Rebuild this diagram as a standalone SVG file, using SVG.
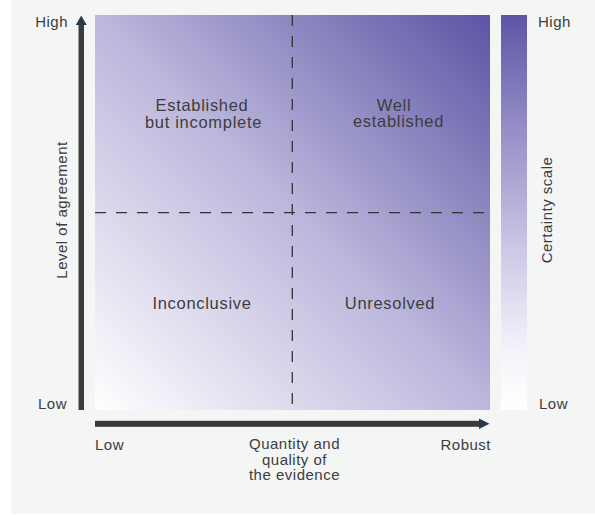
<svg xmlns="http://www.w3.org/2000/svg" width="595" height="515" viewBox="0 0 595 515">
<defs>
<linearGradient id="gSquare" x1="0" y1="1" x2="1" y2="0">
<stop offset="0" stop-color="#ffffff"/>
<stop offset="0.5" stop-color="#bcb7dc"/>
<stop offset="1" stop-color="#5b54a4"/>
</linearGradient>
<linearGradient id="gBar" x1="0" y1="0" x2="0" y2="1">
<stop offset="0" stop-color="#5c56a6"/>
<stop offset="0.3" stop-color="#9790c8"/>
<stop offset="0.6" stop-color="#cdc9e6"/>
<stop offset="0.85" stop-color="#f4f3fa"/>
<stop offset="1" stop-color="#ffffff"/>
</linearGradient>
<style>
.t{font-family:"Liberation Sans",Arial,sans-serif;fill:#3d3d3d;}
.ax{font-size:15px;letter-spacing:0.5px;}
.q{font-size:16.5px;letter-spacing:0.7px;text-anchor:middle;}
.dash{stroke:#333333;stroke-width:1.3;stroke-dasharray:11 10;fill:none;}
.shaft{fill:#3b3b3b;}
.head{fill:#2b3945;}
</style>
</defs>
<rect x="11" y="0" width="584" height="514" fill="#f4f5f5"/>
<g id="matrix">
<rect x="95" y="15" width="395" height="395" fill="url(#gSquare)"/>
</g>
<g id="colorbar">
<rect x="501" y="15" width="26" height="395" fill="url(#gBar)"/>
<text class="t ax" x="538" y="27">High</text>
<text class="t ax" x="539" y="409">Low</text>
<text class="t ax" transform="translate(552,210) rotate(-90)" text-anchor="middle">Certainty scale</text>
</g>
<g id="connectors">
<line class="dash" x1="292.3" y1="15" x2="292.3" y2="410"/>
<line class="dash" x1="95" y1="212.7" x2="490" y2="212.7"/>
<rect class="shaft" x="78.5" y="24" width="5.5" height="386"/>
<polygon class="head" points="81.2,15.5 86.7,25 75.8,25"/>
<rect class="shaft" x="95" y="420.8" width="385" height="6"/>
<polygon class="head" points="489.5,423.8 479,418.5 479,429"/>
</g>
<g id="y-axis-labels">
<text class="t ax" x="68" y="27" text-anchor="end">High</text>
<text class="t ax" x="67" y="409" text-anchor="end">Low</text>
<text class="t ax" transform="translate(67,210) rotate(-90)" text-anchor="middle">Level of agreement</text>
</g>
<g id="x-axis-labels">
<text class="t ax" x="95" y="450">Low</text>
<text class="t ax" x="491" y="450" text-anchor="end">Robust</text>
<text class="t ax" text-anchor="middle"><tspan x="294.5" y="449">Quantity and</tspan><tspan x="294.5" y="464.5">quality of</tspan><tspan x="294.5" y="480">the evidence</tspan></text>
</g>
<g id="q-established-incomplete">
<text class="t q"><tspan x="202" y="110.5">Established</tspan><tspan x="203.5" y="127.5">but incomplete</tspan></text>
</g>
<g id="q-well-established">
<text class="t q"><tspan x="394" y="110.5">Well</tspan><tspan x="398.5" y="127">established</tspan></text>
</g>
<g id="q-inconclusive">
<text class="t q" x="202" y="308.5">Inconclusive</text>
</g>
<g id="q-unresolved">
<text class="t q" x="390" y="308.5">Unresolved</text>
</g>
</svg>
